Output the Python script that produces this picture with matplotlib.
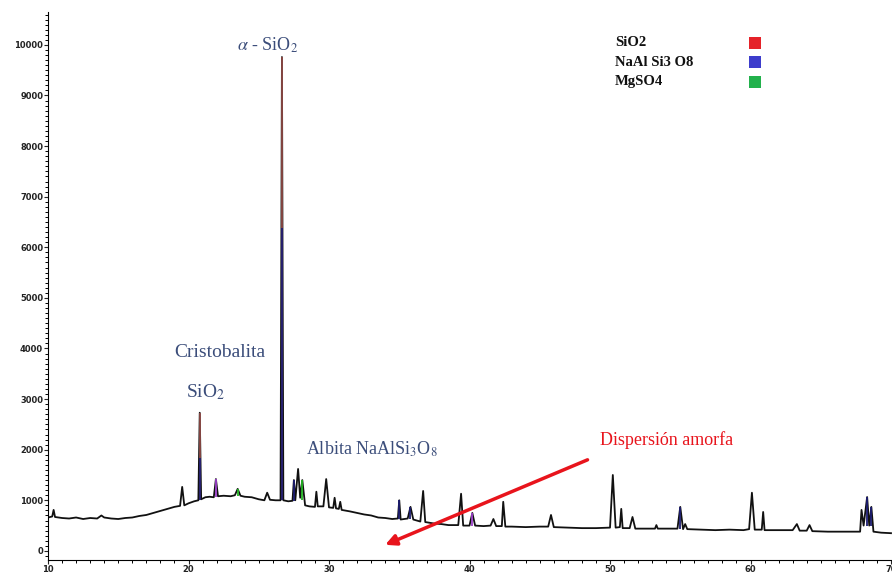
import matplotlib
matplotlib.use("Agg")
import matplotlib.pyplot as plt
from matplotlib.ticker import MultipleLocator

two_theta = [10.0, 10.3, 10.4, 10.5, 11.0, 11.5, 12.0, 12.5, 13.0, 13.5, 13.8, 14.0,
             14.5, 15.0, 15.5, 16.0, 16.5, 17.0, 17.5, 18.0, 18.5, 19.0, 19.4, 19.55,
             19.7, 20.0, 20.4, 20.7, 20.8, 20.9, 21.2, 21.5, 21.8, 21.95, 22.1, 22.5,
             23.0, 23.3, 23.5, 23.7, 24.0, 24.5, 25.0, 25.4, 25.6, 25.8, 26.2, 26.55,
             26.65, 26.75, 27.1, 27.4, 27.5, 27.6, 27.8, 27.95, 28.1, 28.3, 28.6, 29.0,
             29.1, 29.2, 29.6, 29.8, 30.0, 30.3, 30.4, 30.5, 30.7, 30.8, 30.9, 31.5,
             32.0, 32.5, 33.0, 33.5, 34.0, 34.5, 34.9, 35.0, 35.1, 35.6, 35.8, 36.0,
             36.5, 36.7, 36.85, 37.5, 38.0, 38.5, 39.2, 39.4, 39.55, 40.0, 40.2, 40.4,
             41.0, 41.5, 41.7, 41.9, 42.3, 42.4, 42.55, 43.0, 44.0, 45.0, 45.6, 45.8,
             46.0, 47.0, 48.0, 49.0, 50.0, 50.2, 50.4, 50.7, 50.8, 50.9, 51.4, 51.6,
             51.8, 52.5, 53.2, 53.3, 53.4, 54.0, 54.8, 55.0, 55.2, 55.35, 55.5, 56.5,
             57.5, 58.5, 59.5, 59.9, 60.1, 60.3, 60.8, 60.9, 61.0, 62.0, 63.0, 63.3,
             63.5, 64.0, 64.2, 64.4, 65.5, 66.5, 67.5, 67.8, 67.9, 68.05, 68.3, 68.45,
             68.6, 68.75, 69.3, 70.0]
counts = [660, 680, 810, 670, 650, 640, 660, 630, 650, 640, 700, 660,
          640, 630, 650, 660, 690, 710, 750, 790, 830, 870, 890, 1265,
          900, 940, 980, 1000, 2730, 1020, 1060, 1070, 1060, 1420, 1080, 1090,
          1080, 1100, 1225, 1090, 1070, 1060, 1020, 1000, 1150, 1010, 1000, 1000,
          9760, 1000, 980, 990, 1400, 1000, 1620, 1050, 1400, 900, 880, 870,
          1170, 880, 880, 1420, 860, 850, 1050, 840, 830, 970, 810, 780,
          750, 720, 700, 660, 650, 630, 640, 1000, 620, 640, 870, 620,
          580, 1185, 570, 540, 530, 510, 510, 1130, 500, 500, 750, 500,
          490, 500, 630, 490, 490, 970, 480, 480, 470, 480, 480, 710,
          470, 460, 450, 450, 460, 1500, 460, 470, 830, 450, 450, 670,
          440, 440, 440, 510, 440, 440, 440, 870, 430, 530, 430, 420,
          410, 420, 410, 430, 1150, 420, 420, 770, 410, 410, 410, 530,
          400, 400, 510, 390, 380, 380, 380, 380, 810, 500, 1065, 500,
          870, 380, 360, 350]

# phase identification sticks
sio2_pos = [20.8, 26.65]
sio2_base = [1000, 1000]
sio2_top = [2730, 9760]

albite_pos = [20.8, 26.65, 27.5, 35.0, 35.8, 55.0, 68.3, 68.6]
albite_base = [1000, 1000, 990, 640, 640, 440, 500, 500]
albite_top = [1840, 6380, 1400, 1000, 870, 870, 1065, 870]

purple_pos = [21.95, 40.2]
purple_base = [1060, 500]
purple_top = [1420, 750]

mgso4_pos = [23.5, 28.1]
mgso4_base = [1090, 1000]
mgso4_top = [1225, 1400]

legend_names = ["SiO2", "NaAl Si3 O8", "MgSO4"]
legend_colors = ["#e52229", "#3d3dcc", "#22b14c"]
legend_y = [10040, 9660, 9270]

plt.rcParams["mathtext.fontset"] = "stix"
fig = plt.figure(figsize=(8.92, 5.76), dpi=100)
ax = fig.add_axes([48 / 892, 16 / 576, 844 / 892, 548 / 576])

ax.plot(two_theta, counts, color="#111111", lw=1.3, zorder=2)
ax.vlines(sio2_pos, sio2_base, sio2_top, color="#8e4a46", lw=1.3, zorder=3)
ax.vlines(albite_pos, albite_base, albite_top, color="#1c1c70", lw=1.3, zorder=4)
ax.vlines(purple_pos, purple_base, purple_top, color="#9a3fc8", lw=1.3, zorder=4)
ax.vlines(mgso4_pos, mgso4_base, mgso4_top, color="#22b422", lw=1.3, zorder=4)

ax.set_xlim(10, 70.07)
ax.set_ylim(-180, 10650)
for s in ["top", "right"]:
    ax.spines[s].set_visible(False)
ax.xaxis.set_major_locator(MultipleLocator(10))
ax.xaxis.set_minor_locator(MultipleLocator(1))
ax.yaxis.set_major_locator(MultipleLocator(1000))
ax.yaxis.set_minor_locator(MultipleLocator(100))
ax.tick_params(which="major", length=3, width=0.8, labelsize=6, colors="#222222", pad=0.5)
ax.tick_params(which="minor", length=2, width=0.7)
for lab in ax.get_xticklabels() + ax.get_yticklabels():
    lab.set_fontweight("bold")

serif = "Liberation Serif"
label_col = "#3b4d7a"
ax.text(25.66, 10000, r"$\alpha$ - SiO$_2$", fontsize=13, color=label_col,
        family=serif, ha="center", va="center")
ax.text(22.24, 3930, "Cristobalita", fontsize=14, color=label_col,
        family=serif, ha="center", va="center")
ax.text(21.25, 3140, "SiO$_2$", fontsize=14, color=label_col,
        family=serif, ha="center", va="center")
ax.text(33.06, 2000, "Albita NaAlSi$_3$O$_8$", fontsize=13, color=label_col,
        family=serif, ha="center", va="center")
ax.text(49.3, 2190, "Dispersión amorfa", fontsize=13, color="#e8141c",
        family=serif, ha="left", va="center")
ax.annotate("", xy=(34.0, 120), xytext=(48.4, 1800),
            arrowprops=dict(arrowstyle="-|>", color="#e8141c", lw=2.5,
                            mutation_scale=16, shrinkA=0, shrinkB=0))

for name, col, y in zip(legend_names, legend_colors, legend_y):
    ax.text(50.36, y, name, fontsize=10.5, fontweight="bold", family=serif,
            color="#111111", ha="left", va="center")
ax.scatter([60.3] * len(legend_y), legend_y, marker="s", s=80, c=legend_colors,
           edgecolors="none", zorder=5)

fig.savefig("out.png", dpi=100)
